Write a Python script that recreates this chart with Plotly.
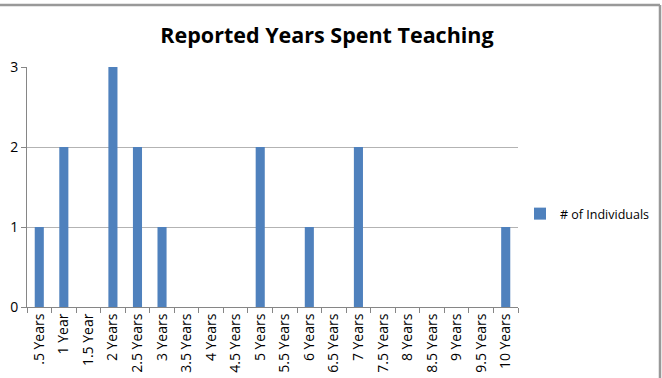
import plotly.graph_objects as go

categories = [".5 Years", "1 Year", "1.5 Year", "2 Years", "2.5 Years", "3 Years",
              "3.5 Years", "4 Years", "4.5 Years", "5 Years", "5.5 Years", "6 Years",
              "6.5 Years", "7 Years", "7.5 Years", "8 Years", "8.5 Years", "9 Years",
              "9.5 Years", "10 Years"]
counts = [1, 2, 0, 3, 2, 1, 0, 0, 0, 2, 0, 1, 0, 2, 0, 0, 0, 0, 0, 1]
series_name = "# of Individuals"
y_ticks = [0, 1, 2, 3]

W, H = 662, 378
L, R, T, B = 27, 144, 67, 71
pw, ph = W - L - R, H - T - B

fig = go.Figure(go.Bar(x=categories, y=counts, name=series_name,
                       marker=dict(color="#4f81bd", line=dict(width=0)),
                       showlegend=True))

fig.update_layout(
    width=W, height=H,
    margin=dict(l=L, r=R, t=T, b=B, autoexpand=False),
    paper_bgcolor="white", plot_bgcolor="white",
    font=dict(family="Open Sans, Lato, sans-serif", size=12, color="#000"),
    bargap=0.63,
    title=dict(text="<b>Reported Years Spent Teaching</b>", x=327 / W, xanchor="center",
               y=1 - 35 / H, yanchor="middle", font=dict(size=21.5)),
    legend=dict(x=(520 - L) / pw, y=1 - (214 - T) / ph, xanchor="left", yanchor="middle",
                font=dict(size=12.5), bgcolor="rgba(0,0,0,0)", itemwidth=30),
    xaxis=dict(type="category", tickangle=-90, showline=True, linecolor="#868686",
               linewidth=1, ticks="outside", tickson="boundaries", ticklen=5,
               tickcolor="#868686", showgrid=False, tickfont=dict(size=14),
               range=[-0.5, len(categories) - 0.5]),
    yaxis=dict(range=[0, 3], tickvals=y_ticks, showline=True, linecolor="#868686",
               linewidth=1, ticks="outside", ticklen=5, tickcolor="#868686",
               showgrid=True, gridcolor="#b3b3b3", gridwidth=1,
               tickfont=dict(size=14), zeroline=False),
)

# outer chart border (top and right edges)
xl, xr = (-5 - L) / pw, (660 - L) / pw
yt, yb = 1 - (5 - T) / ph, 1 - (390 - T) / ph
border = dict(color="#999999", width=2.5)
fig.add_shape(type="line", xref="paper", yref="paper", x0=xl, x1=xr, y0=yt, y1=yt,
              line=border, layer="above")
fig.add_shape(type="line", xref="paper", yref="paper", x0=xr, x1=xr, y0=yb, y1=yt,
              line=border, layer="above")

fig.write_html("out.html")
